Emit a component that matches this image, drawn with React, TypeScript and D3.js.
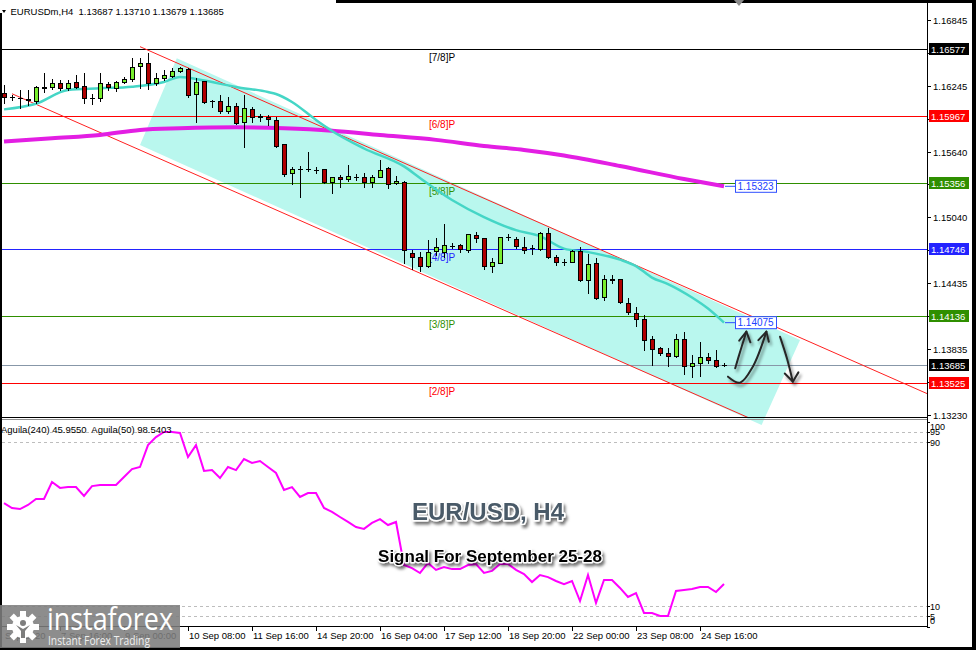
import React from 'react';
import * as d3 from 'd3';

// ---------- DATA ----------
const opens = [1.16180,1.16140,1.16131,1.16122,1.16104,1.16229,1.16229,1.16271,1.16220,1.16280,
1.16244,1.16134,1.16129,1.16257,1.16220,1.16275,1.16302,1.16424,1.16449,1.16266,
1.16312,1.16335,1.16381,1.16394,1.16165,1.16287,1.16104,1.16107,1.16012,1.16058,
1.15909,1.16028,1.15955,1.15960,1.15930,1.15708,1.15442,1.15479,1.15479,1.15473,
1.15479,1.15366,1.15412,1.15388,1.15412,1.15406,1.15360,1.15412,1.15488,1.15351,
1.15365,1.14716,1.14674,1.14594,1.14731,1.14725,1.14780,1.14784,1.14741,1.14878,
1.14848,1.14597,1.14625,1.14857,1.14838,1.14771,1.14756,1.14747,1.14893,1.14674,
1.14633,1.14633,1.14731,1.14466,1.14619,1.14308,1.14472,1.14472,1.14258,1.14167,
1.14106,1.13923,1.13841,1.13798,1.13771,1.13923,1.13679,1.13710,1.13760,1.13737,1.13687];
const highs = [1.16250,1.16159,1.16205,1.16205,1.16237,1.16357,1.16302,1.16296,1.16296,1.16346,
1.16357,1.16165,1.16357,1.16280,1.16290,1.16321,1.16495,1.16495,1.16540,1.16357,
1.16388,1.16403,1.16412,1.16403,1.16312,1.16291,1.16113,1.16159,1.16138,1.16083,
1.16159,1.16052,1.15985,1.15976,1.15955,1.15711,1.15497,1.15509,1.15634,1.15497,
1.15482,1.15411,1.15427,1.15518,1.15433,1.15442,1.15427,1.15564,1.15497,1.15420,
1.15372,1.14741,1.14725,1.14832,1.14850,1.14976,1.14802,1.14795,1.14889,1.14908,
1.14850,1.14665,1.14860,1.14887,1.14862,1.14862,1.14786,1.14908,1.14939,1.14695,
1.14655,1.14741,1.14771,1.14704,1.14665,1.14512,1.14512,1.14475,1.14299,1.14222,
1.14146,1.13954,1.13856,1.13847,1.13972,1.13993,1.13780,1.13901,1.13797,1.13823,1.13710];
const lows = [1.16083,1.16113,1.16043,1.16067,1.16083,1.16189,1.16211,1.16205,1.16205,1.16220,
1.16083,1.16074,1.16104,1.16205,1.16198,1.16271,1.16290,1.16220,1.16211,1.16250,
1.16296,1.16321,1.16372,1.16138,1.15914,1.16088,1.16052,1.15991,1.15997,1.15893,
1.15686,1.15914,1.15924,1.15884,1.15686,1.15418,1.15344,1.15228,1.15466,1.15448,
1.15351,1.15265,1.15314,1.15375,1.15381,1.15320,1.15314,1.15406,1.15305,1.15344,
1.14619,1.14564,1.14551,1.14582,1.14695,1.14679,1.14756,1.14725,1.14725,1.14816,
1.14564,1.14542,1.14619,1.14832,1.14756,1.14710,1.14704,1.14741,1.14665,1.14603,
1.14603,1.14628,1.14457,1.14344,1.14289,1.14283,1.14438,1.14253,1.14152,1.14045,
1.13826,1.13688,1.13780,1.13679,1.13764,1.13603,1.13581,1.13588,1.13706,1.13672,1.13679];
const closes = [1.16138,1.16138,1.16129,1.16116,1.16229,1.16227,1.16271,1.16220,1.16271,1.16235,
1.16129,1.16132,1.16266,1.16229,1.16275,1.16302,1.16418,1.16454,1.16266,1.16312,
1.16342,1.16381,1.16403,1.16159,1.16275,1.16097,1.16104,1.16015,1.16058,1.15905,
1.16037,1.15955,1.15969,1.15936,1.15692,1.15436,1.15479,1.15480,1.15482,1.15470,
1.15365,1.15406,1.15387,1.15418,1.15410,1.15360,1.15412,1.15473,1.15342,1.15372,
1.14741,1.14679,1.14594,1.14725,1.14768,1.14784,1.14778,1.14747,1.14887,1.14848,
1.14597,1.14628,1.14857,1.14855,1.14777,1.14741,1.14754,1.14893,1.14674,1.14633,
1.14631,1.14731,1.14466,1.14610,1.14299,1.14472,1.14470,1.14262,1.14176,1.14106,
1.13917,1.13832,1.13801,1.13771,1.13923,1.13679,1.13710,1.13760,1.13737,1.13681,1.13685];

const maFastBars = [0,4,8,12,16,20,22,25,29,33,34,36,39,41,45,50,52,56,60,64,67,70,73,77,79,81,83,86,88,90];
const maFastVals = [1.16027,1.16079,1.16205,1.16220,1.16235,1.16278,1.16324,1.16291,1.16232,1.16186,1.16168,1.16095,1.15930,1.15829,1.15669,1.15505,1.15399,1.15198,1.15042,1.14922,1.14867,1.14753,1.14721,1.14652,1.14593,1.14488,1.14428,1.14305,1.14204,1.14075];
const maSlowBars = [0,6,12,17,22,29,35,41,47,54,60,65,70,77,85,90];
const maSlowVals = [1.15732,1.15763,1.15793,1.15839,1.15854,1.15863,1.15854,1.15832,1.15793,1.15748,1.15692,1.15656,1.15605,1.15509,1.15390,1.15323];

const aguila = [60.2,57.8,57.3,59.3,62.2,62.2,70.5,67.6,68.0,68.0,
63.7,68.5,69.0,69.0,69.0,72.9,76.8,77.8,88.5,92.4,
94.9,94.9,94.4,82.7,88.5,75.9,76.3,72.4,77.8,76.3,
81.7,79.8,80.7,77.8,74.9,66.6,68.0,63.2,65.1,65.1,
57.8,55.9,53.4,51.0,48.5,47.6,50.5,52.4,49.5,51.0,
30.0,28.5,26.1,31.0,27.6,29.0,28.0,28.0,30.0,30.5,
26.1,27.1,30.5,30.5,27.6,25.6,21.7,25.1,24.1,22.2,
20.7,22.2,12.4,25.1,11.5,22.7,22.7,18.8,14.4,16.3,
6.6,6.6,5.1,5.1,17.3,17.8,18.3,19.3,19.3,16.8,20.7];

const murreyLevels = [1.16577,1.15967,1.15356,1.14746,1.14136,1.13525];
const murreyNames = ['[7/8]P','[6/8]P','[5/8]P','[4/8]P','[3/8]P','[2/8]P'];
const currentPrice = 1.13685;

const priceTicks = [1.16845,1.16545,1.16245,1.15942,1.15640,1.15340,1.15040,1.14737,1.14435,1.14134,1.13835,1.13530,1.13230];
const aguilaTicks = [100,95,90,10,5,0];
const aguilaLevels = [95,90,10,5];

const timeBars = [-1,7,15,23,31,39,47,55,63,71,79,87];
const timeLabels = ['4 Sep 2020','7 Sep 16:00','9 Sep 00:00','10 Sep 08:00','11 Sep 16:00','14 Sep 20:00','16 Sep 04:00','17 Sep 12:00','18 Sep 20:00','22 Sep 00:00','23 Sep 08:00','24 Sep 16:00'];

// channel (bar, price) anchors
const channelUpper: [number, number][] = [[17,1.16601],[90,1.14245]];
const channelLower: [number, number][] = [[1,1.16170],[90,1.13304]];
const channelZone: [number, number][] = [[21.6,1.16495],[99.5,1.13917],[94.7,1.13139],[17,1.15701]];

// hand-drawn forecast arrows (bar, price)
const arrowA: [number, number][] = [[91.4,1.13658],[92.1,1.13830],[92.8,1.13993]];
const arrowAHead: [number, number][] = [[91.9,1.13910],[92.8,1.13993],[93.3,1.13895]];
const arrowB: [number, number][] = [[90.5,1.13581],[92.0,1.13526],[93.6,1.13672],[95.3,1.13993]];
const arrowBHead: [number, number][] = [[94.3,1.13915],[95.3,1.13993],[95.6,1.13900]];
const arrowC: [number, number][] = [[97.0,1.13947],[97.9,1.13740],[98.6,1.13535]];
const arrowCHead: [number, number][] = [[97.6,1.13610],[98.6,1.13535],[99.3,1.13620]];

const FONT = '"Liberation Sans", Arial, sans-serif';

export default function App() {
  const x = d3.scaleLinear().domain([0, 90]).range([4, 724]);
  const y = d3.scaleLinear().domain([1.1323, 1.16845]).range([415, 20]);
  const yi = d3.scaleLinear().domain([0, 100]).range([626.5, 421.5]);

  const L = 2, R = 927, T = 3, B = 418;
  const bull = '#78ee2e', bear = '#b00000';
  const mColors = ['#000000', '#ff0000', '#2f8f00', '#2323ff', '#2f8f00', '#ff0000'];

  const lineXY = d3.line<[number, number]>().x(d => x(d[0])).y(d => y(d[1]));
  const curveLine = d3.line<[number, number]>().x(d => x(d[0])).y(d => y(d[1])).curve(d3.curveCatmullRom.alpha(0.5));
  const maLine = d3.line<[number, number]>().x(d => x(d[0])).y(d => y(d[1])).curve(d3.curveMonotoneX);
  const indLine = d3.line<number>().x((_, i) => x(i)).y(d => yi(d));

  const fastPts: [number, number][] = maFastBars.map((b, i) => [b, maFastVals[i]]);
  const slowPts: [number, number][] = maSlowBars.map((b, i) => [b, maSlowVals[i]]);

  const extend = (pts: [number, number][]) => {
    const x1 = x(pts[0][0]), y1 = y(pts[0][1]), x2 = x(pts[1][0]), y2 = y(pts[1][1]);
    const s = (y2 - y1) / (x2 - x1);
    return { x1, y1, x2: R, y2: y1 + s * (R - x1) };
  };
  const up = extend(channelUpper), lo = extend(channelLower);

  const labelled = [...murreyLevels, currentPrice];
  const hiddenTick = (v: number) => labelled.some(l => Math.abs(y(l) - y(v)) < 8);

  const lastBar = opens.length - 1;
  const maLabel = (v: number, key: string) => {
    const yy = y(v);
    const x0 = x(lastBar);
    return (
      <g key={key}>
        <line x1={x0 + 1} x2={x0 + 11} y1={yy} y2={yy} stroke="#3050ff" />
        <rect x={x0 + 11.5} y={yy - 6} width={41} height={12} fill="#ffffff" stroke="#3050ff" />
        <text x={x0 + 13.5} y={yy + 3.5} fontFamily={FONT} fontSize={10} fill="#2040ff">{v.toFixed(5)}</text>
      </g>
    );
  };

  const boxLabel = (v: number, bg: string, key: string) => (
    <g key={key}>
      <rect x={929} y={Math.round(y(v)) - 6} width={40} height={12} fill={bg} />
      <text x={931} y={Math.round(y(v)) + 3.5} fontFamily={FONT} fontSize={9.5} fill="#ffffff">{v.toFixed(5)}</text>
    </g>
  );

  const gearC = [23, 627];
  const teeth = d3.range(8).map(i => i * 45);

  return (
    <div style={{ position: 'absolute', left: 0, top: 0, width: 976, height: 650 }}>
      <svg width={976} height={650} style={{ display: 'block' }}>
        <defs>
          <clipPath id="mainClip"><rect x={L} y={T} width={R - L} height={B - T} /></clipPath>
          <clipPath id="indClip"><rect x={L} y={420} width={R - L} height={207} /></clipPath>
          <clipPath id="axisClip"><rect x={2} y={627} width={925} height={20} /></clipPath>
          <filter id="txtShadow" x="-10%" y="-40%" width="130%" height="200%">
            <feDropShadow dx="2" dy="3" stdDeviation="1.6" floodColor="#000" floodOpacity="0.55" />
          </filter>
          <filter id="arrowShadow" x="-50%" y="-50%" width="200%" height="200%">
            <feDropShadow dx="2" dy="3" stdDeviation="1.5" floodColor="#000" floodOpacity="0.45" />
          </filter>
        </defs>

        <rect x={0} y={0} width={976} height={650} fill="#ffffff" />

        <path d={lineXY(channelZone)! + 'Z'} fill="#b9f7ee" stroke="none" />

        <g clipPath="url(#mainClip)">
          {murreyLevels.map((v, i) => (
            <line key={'m' + i} x1={L} x2={R} y1={Math.round(y(v)) + 0.5} y2={Math.round(y(v)) + 0.5} stroke={mColors[i]} strokeWidth={1} />
          ))}
          <line x1={L} x2={R} y1={Math.round(y(currentPrice)) + 0.5} y2={Math.round(y(currentPrice)) + 0.5} stroke="#8797a8" />
          {murreyLevels.map((v, i) => (
            <text key={'ml' + i} x={429} y={Math.round(y(v)) + 11.5} fontFamily={FONT} fontSize={10} fill={mColors[i]}>{murreyNames[i]}</text>
          ))}
          <line x1={up.x1} y1={up.y1} x2={up.x2} y2={up.y2} stroke="#ff2020" strokeWidth={1} />
          <line x1={lo.x1} y1={lo.y1} x2={lo.x2} y2={lo.y2} stroke="#ff2020" strokeWidth={1} />
          <path d={maLine(slowPts)!} fill="none" stroke="#e31ee3" strokeWidth={4} />
          <path d={maLine(fastPts)!} fill="none" stroke="#45d6c6" strokeWidth={2.5} />
          {opens.map((o, i) => {
            const h = highs[i], l = lows[i], c = closes[i];
            const cx = Math.round(x(i));
            const yo = y(o), yc = y(c);
            const top = Math.round(Math.min(yo, yc)), bot = Math.round(Math.max(yo, yc));
            const doji = bot - top < 1;
            return (
              <g key={'c' + i}>
                <line x1={cx + 0.5} x2={cx + 0.5} y1={Math.round(y(h))} y2={Math.round(y(l)) + 1} stroke="#000" />
                {doji ? (
                  <line x1={cx - 2} x2={cx + 3} y1={top + 0.5} y2={top + 0.5} stroke="#000" />
                ) : (
                  <rect x={cx - 1.5} y={top + 0.5} width={4} height={bot - top} fill={c > o ? bull : bear} stroke="#000" />
                )}
              </g>
            );
          })}
        </g>

        {maLabel(maSlowVals[maSlowVals.length - 1], 'slowLbl')}
        {maLabel(maFastVals[maFastVals.length - 1], 'fastLbl')}

        <g filter="url(#arrowShadow)" fill="none" stroke="#262626" strokeWidth={2} strokeLinecap="round" strokeLinejoin="round">
          <path d={curveLine(arrowA)!} />
          <path d={lineXY(arrowAHead)!} />
          <path d={curveLine(arrowB)!} />
          <path d={lineXY(arrowBHead)!} />
          <path d={curveLine(arrowC)!} />
          <path d={lineXY(arrowCHead)!} />
        </g>

        <line x1={L} x2={R} y1={417.5} y2={417.5} stroke="#000" />
        <line x1={L} x2={R} y1={419.5} y2={419.5} stroke="#909090" />
        <line x1={L} x2={R} y1={626.5} y2={626.5} stroke="#000" />
        <line x1={927.5} x2={927.5} y1={0} y2={627} stroke="#000" />

        {aguilaLevels.map(v => (
          <line key={'al' + v} x1={L} x2={R} y1={Math.round(yi(v)) + 0.5} y2={Math.round(yi(v)) + 0.5} stroke="#bdbdbd" strokeDasharray="3,3" />
        ))}
        <g clipPath="url(#indClip)">
          <path d={indLine(aguila)!} fill="none" stroke="#ff00ff" strokeWidth={2} />
        </g>
        <text x={1} y={433} fontFamily={FONT} fontSize={9.5} fill="#000" style={{ whiteSpace: 'pre' }}>{'Aguila(240) 45.9550  Aguila(50) 98.5403'}</text>
        {aguilaTicks.map(v => {
          const yy = Math.min(620, Math.max(426.5, yi(v)));
          return (
            <g key={'at' + v}>
              <line x1={927} x2={930} y1={Math.round(yi(v)) + 0.5} y2={Math.round(yi(v)) + 0.5} stroke="#000" />
              <text x={930} y={yy + 3.5} fontFamily={FONT} fontSize={9} fill="#000">{v}</text>
            </g>
          );
        })}

        {priceTicks.map(v => (
          <g key={'pt' + v}>
            <line x1={927} x2={931} y1={Math.round(y(v)) + 0.5} y2={Math.round(y(v)) + 0.5} stroke="#000" />
            {!hiddenTick(v) && (
              <text x={933} y={Math.round(y(v)) + 3.5} fontFamily={FONT} fontSize={9.5} fill="#000">{v.toFixed(5)}</text>
            )}
          </g>
        ))}
        {murreyLevels.map((v, i) => boxLabel(v, mColors[i], 'bl' + i))}
        {boxLabel(currentPrice, '#000000', 'curLbl')}

        <g clipPath="url(#axisClip)">
          {timeBars.map((b, i) => (
            <g key={'tt' + i}>
              <line x1={Math.round(x(b)) + 0.5} x2={Math.round(x(b)) + 0.5} y1={627} y2={631} stroke="#000" />
              <text x={Math.round(x(b)) + 1} y={639} fontFamily={FONT} fontSize={9.5} fill="#000">{timeLabels[i]}</text>
            </g>
          ))}
        </g>

        <g filter="url(#txtShadow)">
          <text x={488} y={520} textAnchor="middle" fontFamily={FONT} fontWeight="bold" fontSize={24}
            fill="#4a5a68" stroke="#ffffff" strokeWidth={3} paintOrder="stroke" strokeLinejoin="round">EUR/USD, H4</text>
          <text x={490} y={562} textAnchor="middle" fontFamily={FONT} fontWeight="bold" fontSize={17}
            fill="#000000" stroke="#ffffff" strokeWidth={2.5} paintOrder="stroke" strokeLinejoin="round">Signal For September 25-28</text>
        </g>

        <rect x={0} y={0} width={976} height={3} fill="#000" />
        <rect x={0} y={0} width={336} height={13} fill="#ffffff" />
        <path d="M2,10 L6,10 L4,13 Z" fill="#000" />
        <text x={10.5} y={15} fontFamily={FONT} fontSize={9.5} fill="#000" style={{ whiteSpace: 'pre' }}>{'EURUSDm,H4  1.13687 1.13710 1.13679 1.13685'}</text>
        <path d="M734,0 L744,0 L739,6 Z" fill="#8a8a8a" />

        <rect x={0} y={13} width={2} height={637} fill="#000" />
        <rect x={972} y={0} width={4} height={650} fill="#000" />
        <rect x={0} y={647} width={976} height={3} fill="#000" />

        <rect x={0} y={605} width={180} height={43} fill="#7d7d7d" opacity={0.88} />
        <g fill="#ffffff">
          {teeth.map(a => (
            <rect key={'g' + a} x={gearC[0] - 3} y={gearC[1] - 16} width={6} height={7}
              transform={`rotate(${a},${gearC[0]},${gearC[1]})`} />
          ))}
          <circle cx={gearC[0]} cy={gearC[1]} r={11} />
        </g>
        <circle cx={gearC[0]} cy={gearC[1] - 4} r={3} fill="#7d7d7d" />
        <path d={`M${gearC[0] - 7},${gearC[1] - 2} L${gearC[0]},${gearC[1] + 2} L${gearC[0] + 7},${gearC[1] - 2} L${gearC[0] + 2},${gearC[1] + 4} L${gearC[0] + 2},${gearC[1] + 11} L${gearC[0] - 2},${gearC[1] + 11} L${gearC[0] - 2},${gearC[1] + 4} Z`} fill="#7d7d7d" />
        <text x={47} y={630} fontFamily='"Open Sans", sans-serif' fontSize={31} fill="#ffffff" textLength={126} lengthAdjust="spacingAndGlyphs">instaforex</text>
        <text x={48} y={645} fontFamily='"Open Sans", sans-serif' fontSize={12.5} fill="#eeeeee" textLength={102} lengthAdjust="spacingAndGlyphs">Instant Forex Trading</text>
      </svg>
    </div>
  );
}
